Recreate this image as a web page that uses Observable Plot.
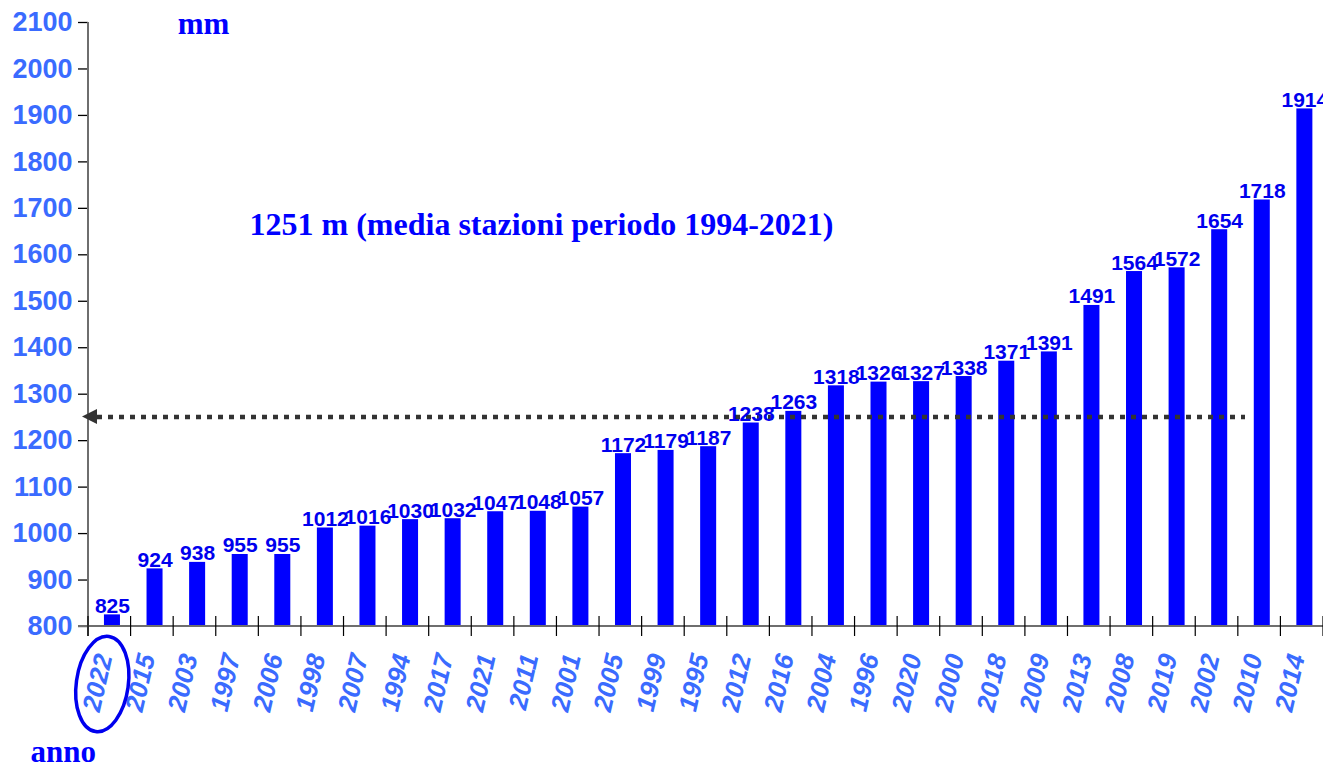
<!DOCTYPE html>
<html><head><meta charset="utf-8">
<script src="https://cdn.jsdelivr.net/npm/d3@7"></script>
<script src="https://cdn.jsdelivr.net/npm/@observablehq/plot@0.6"></script>
<style>html,body{margin:0;padding:0;background:#fff;overflow:hidden}</style>
</head><body><div id="chart"></div>
<script>
const years = ["2022","2015","2003","1997","2006","1998","2007","1994","2017","2021","2011","2001","2005","1999","1995","2012","2016","2004","1996","2020","2000","2018","2009","2013","2008","2019","2002","2010","2014"];
const values = [825,924,938,955,955,1012,1016,1030,1032,1047,1048,1057,1172,1179,1187,1238,1263,1318,1326,1327,1338,1371,1391,1491,1564,1572,1654,1718,1914];
const yTicks = [800,900,1000,1100,1200,1300,1400,1500,1600,1700,1800,1900,2000,2100];
const yDomain = [800, 2100];
const meanValue = 1251;
const meanLabel = "1251 m (media stazioni periodo 1994-2021)";
const highlightYear = "2022";
const unitLabel = "mm";
const axisLabel = "anno";

const data = years.map((year, i) => ({year, value: values[i]}));

const BAR = "#0000ff";
const DARKBLUE = "#0000ee";
const LIGHT = "#3a6bff";
const SERIF = "'Liberation Serif', 'Times New Roman', serif";
const SANS = "'Liberation Sans', Arial, sans-serif";

function decorations(index, scales, vals, dims) {
  const {width, height, marginLeft, marginRight, marginTop, marginBottom} = dims;
  const n = years.length;
  const step = (width - marginLeft - marginRight) / n;
  const y0 = height - marginBottom;
  const g = d3.create("svg:g");
  g.append("line").attr("x1", marginLeft - 10).attr("x2", width).attr("y1", y0).attr("y2", y0)
    .attr("stroke", "#6e6e6e").attr("stroke-width", 2);
  g.append("line").attr("x1", marginLeft).attr("x2", marginLeft).attr("y1", marginTop).attr("y2", y0 + 10)
    .attr("stroke", "#6e6e6e").attr("stroke-width", 2);
  for (let k = 0; k <= n; k++) {
    const xx = marginLeft + k * step;
    g.append("line").attr("x1", xx).attr("x2", xx).attr("y1", y0 - 10).attr("y2", y0 + 10)
      .attr("stroke", "#000").attr("stroke-width", 1.2);
  }
  const ym = scales.y(meanValue);
  const tip = marginLeft - 6;
  g.append("path").attr("d", `M${tip},${ym}L${tip + 15},${ym - 7.5}L${tip + 15},${ym + 7.5}Z`).attr("fill", "#333");
  const idx = years.indexOf(highlightYear);
  const cx = marginLeft + (idx + 0.5) * step - 7;
  const cy = y0 + 58;
  g.append("ellipse").attr("cx", 0).attr("cy", 0).attr("rx", 26).attr("ry", 48)
    .attr("transform", `translate(${cx},${cy}) rotate(8)`)
    .attr("fill", "none").attr("stroke", "#0000ee").attr("stroke-width", 3.5);
  return g.node();
}

const chart = Plot.plot({
  width: 1323, height: 767,
  marginLeft: 88, marginRight: 0, marginTop: 22, marginBottom: 141,
  x: {domain: years, paddingInner: 0.624, paddingOuter: 0.312, align: 0.6, round: false, axis: null},
  y: {domain: yDomain, axis: null},
  style: {fontFamily: SANS, background: "#fff", overflow: "visible"},
  marks: [
    Plot.barY(data, {x: "year", y: "value", fill: BAR, clip: true}),
    Plot.ruleY([meanValue], {stroke: "#333", strokeWidth: 4.5, strokeDasharray: "5 6", insetLeft: 9, insetRight: 78}),
    Plot.text(data, {x: "year", y: "value", text: d => String(d.value), lineAnchor: "bottom", dy: -2,
      fontSize: 21, fontWeight: "bold", fill: DARKBLUE, fontFamily: SANS}),
    Plot.axisY({ticks: yTicks, tickSize: 10, text: null, label: null, stroke: "#000", strokeWidth: 1.3}),
    Plot.axisY({ticks: yTicks, tickSize: 0, tickPadding: 16, label: null, tickFormat: d => String(d),
      fontSize: 27, fontWeight: "bold", fill: LIGHT, fontFamily: SANS}),
    Plot.text(years, {x: d => d, frameAnchor: "bottom", rotate: -77, textAnchor: "end", lineAnchor: "middle",
      dx: -8, dy: 28, fontSize: 26, fontWeight: "bold", fontStyle: "italic", fill: LIGHT, fontFamily: SANS}),
    decorations,
    Plot.text([unitLabel], {frameAnchor: "top-left", textAnchor: "middle", lineAnchor: "middle", dx: 115, dy: 2,
      fontSize: 31, fontWeight: "bold", fill: BAR, fontFamily: SERIF}),
    Plot.text([meanLabel], {frameAnchor: "top-left", textAnchor: "middle", lineAnchor: "middle", dx: 453, dy: 202,
      fontSize: 32, fontWeight: "bold", fill: BAR, fontFamily: SERIF}),
    Plot.text([axisLabel], {frameAnchor: "bottom-left", textAnchor: "start", lineAnchor: "middle", dx: -58, dy: 126,
      fontSize: 31, fontWeight: "bold", fill: BAR, fontFamily: SERIF})
  ]
});
document.getElementById("chart").appendChild(chart);
</script>
</body></html>
